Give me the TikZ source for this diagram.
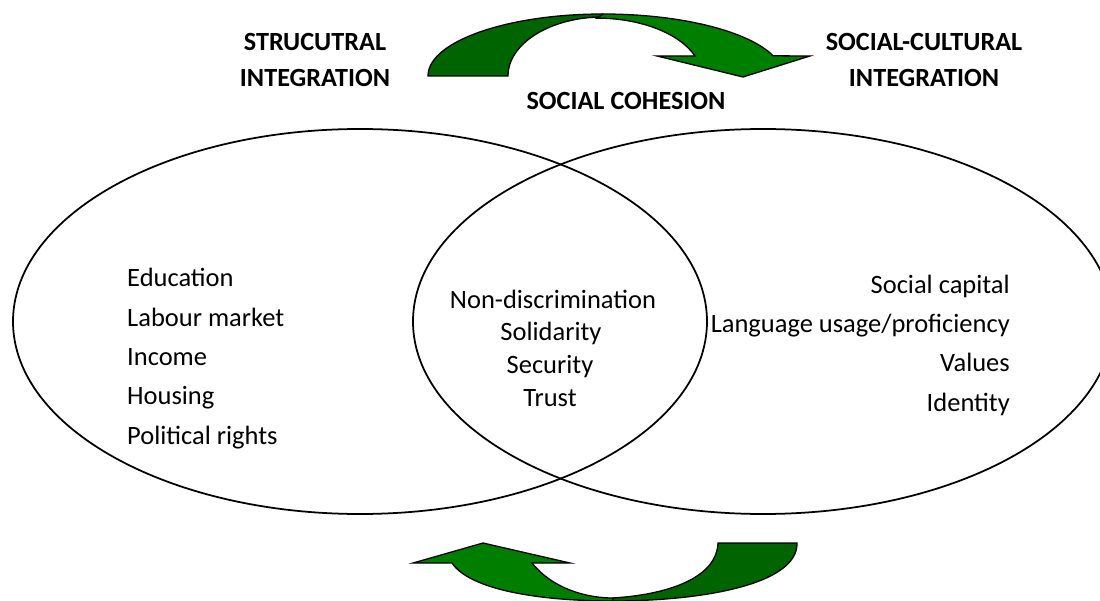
\documentclass[tikz,border=0pt]{standalone}
\usepackage{fontspec}
\setmainfont{Carlito}
\usepackage{xcolor}
\usepackage{tikz}

\definecolor{bandback}{RGB}{0,100,0}
\definecolor{bandfront}{RGB}{0,126,0}

\begin{document}
\begin{tikzpicture}[x=0.3mm, y=-0.3mm,
    every node/.style={font=\fontsize{22.6}{31.5}\selectfont, inner sep=0pt},
    heading/.style={font=\fontsize{22.4}{31.5}\selectfont\bfseries, align=center},
    backband/.style={draw=black, line width=1.1pt, fill=bandback},
    frontband/.style={draw=black, line width=1.1pt, fill=bandfront}]
          \useasboundingbox (0,0) rectangle (1100,601);

          \node [heading] (struct) at (315, 60) {STRUCUTRAL\\INTEGRATION};
          \node [heading] (cult) at (924, 60) {SOCIAL-CULTURAL\\INTEGRATION};
          \node [heading, anchor=base] (cohesion) at (626, 110) {SOCIAL COHESION};

          \filldraw [backband] (428,76) arc [start angle=180, end angle=270, x radius=175, y radius=62]
              -- (603,17) arc [start angle=270, end angle=180, x radius=95, y radius=59] -- cycle;
          \filldraw [frontband] (603,14) arc [start angle=270, end angle=341, x radius=180, y radius=62]
              -- (810,56) -- (743,77) -- (657,56) -- (695,56)
              arc [start angle=-21, end angle=-90, x radius=105, y radius=59] -- cycle;

          \draw [line width=1.5pt] (360, 321.5) circle [x radius=347, y radius=192.5];
          \draw [line width=1.5pt] (763, 321.5) circle [x radius=350, y radius=192.5];

          \node [anchor=base west] (edu) at (127, 287) {Education};
          \node [anchor=base west] (lab) at (127, 326.5) {Labour market};
          \node [anchor=base west] (inc) at (127, 365.5) {Income};
          \node [anchor=base west] (hou) at (127, 405) {Housing};
          \node [anchor=base west] (pol) at (127, 444) {Political rights};

          \node [anchor=base] (nondis) at (553, 308.5) {Non-discrimination};
          \node [anchor=base] (solid) at (551, 341) {Solidarity};
          \node [anchor=base] (secur) at (550, 373.5) {Security};
          \node [anchor=base] (trust) at (550, 406) {Trust};

          \node [anchor=base east] (capital) at (1010, 293.5) {Social capital};
          \node [anchor=base east] (lang) at (1010, 332.5) {Language usage/proficiency};
          \node [anchor=base east] (values) at (1010, 372) {Values};
          \node [anchor=base east] (ident) at (1010, 411.5) {Identity};

          \filldraw [backband] (718,543) -- (797,543) .. controls (798,585) and (700,601) .. (613,601)
              -- (613,598) .. controls (675,594) and (717,575) .. (718,543) -- cycle;
          \filldraw [frontband] (613,601) .. controls (540,601) and (470,590) .. (452,563)
              -- (413,563) -- (483,543) -- (570,563) -- (532,563)
              .. controls (552,588) and (585,598) .. (613,598) -- cycle;
        \end{tikzpicture}
\end{document}
